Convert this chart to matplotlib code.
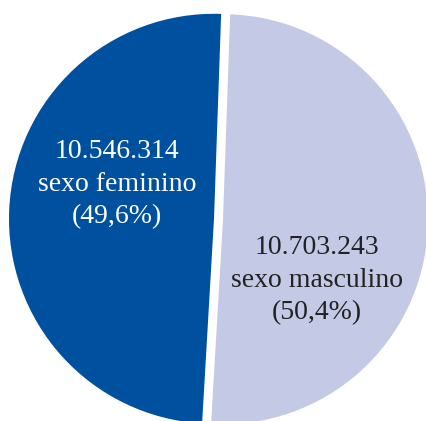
import matplotlib.pyplot as plt

categories = ["sexo feminino", "sexo masculino"]
values = [10546314, 10703243]
pct_labels = ["49,6%", "50,4%"]
value_labels = ["10.546.314", "10.703.243"]
colors = ["#0050a0", "#c4cae6"]
text_colors = ["white", "#222222"]

W, H = 426, 421
fig = plt.figure(figsize=(W / 100, H / 100), dpi=100)
ax = fig.add_axes([0, 0, 1, 1])

cx, cy, r = 218.5, 219.0, 205.0
ax.pie(values, colors=colors, startangle=88, counterclock=True,
       explode=[0.022, 0.022], radius=1.0, center=(0, 0),
       wedgeprops=dict(linewidth=0))
ax.set_aspect("equal")
ax.set_xlim(-cx / r, (W - cx) / r)
ax.set_ylim(-(H - cy) / r, cy / r)
ax.axis("off")

label_pos = [(-0.495, 0.17), (0.48, -0.298)]
for (x, y), v, c, p, tc in zip(label_pos, value_labels, categories, pct_labels, text_colors):
    ax.text(x, y, f"{v}\n{c}\n({p})", ha="center", va="center", color=tc,
            fontsize=20, family="Liberation Serif", linespacing=1.41)

fig.savefig("out.png", dpi=100)
